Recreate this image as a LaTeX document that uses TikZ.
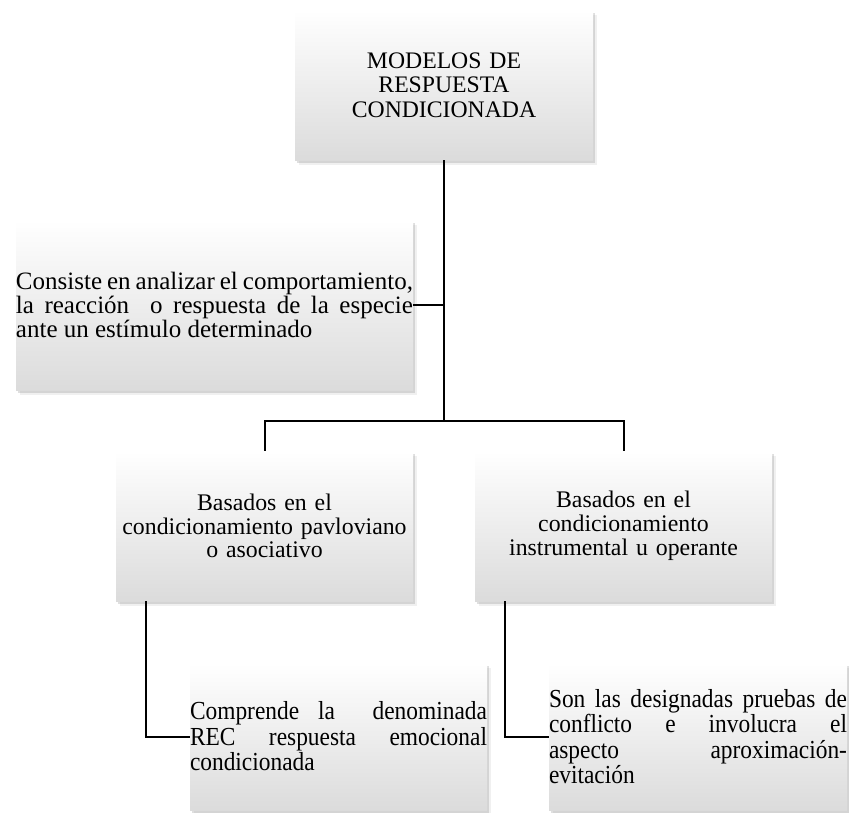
\documentclass[tikz,border=0pt]{standalone}
\usepackage{fontspec}
\setmainfont{Liberation Serif}
\newfontfamily\tallserif[FakeStretch=0.9]{Liberation Serif}
\usepackage{tikz}
\usetikzlibrary{calc, positioning, shadows}
\tikzstyle{box}=[inner sep=0pt, shape=rectangle, top color=white, middle color=white!97!black, bottom color=black!14,
  drop shadow={shadow xshift=2pt, shadow yshift=-3pt, opacity=.25},
  drop shadow={shadow xshift=3.5pt, shadow yshift=-5pt, opacity=.12},
  font=\fontsize{23.8}{23.8}\selectfont]
\tikzstyle{cbox}=[box, align=center]
\tikzstyle{jbox}=[box, align=justify]
\tikzstyle{conn}=[line width=2pt, black]

\begin{document}
\begin{tikzpicture}[x=1pt, y=-1pt]
\useasboundingbox (0,0) rectangle (849,812);

\node[cbox, text width=298pt, minimum height=150pt, font=\fontsize{23.7}{24.3}\selectfont] (title) at (444,85) {MODELOS DE\\RESPUESTA\\CONDICIONADA};
\node[jbox, text width=397pt, minimum height=170pt, font=\fontsize{25}{22}\selectfont] (desc) at (214.5,305) {Consiste en analizar el comportamiento, la reacción \ o respuesta de la especie ante un estímulo determinado};
\node[cbox, text width=297pt, minimum height=150pt] (pav) at (264.5,526) {Basados en el\\condicionamiento pavloviano\\o asociativo};
\node[cbox, text width=297pt, minimum height=150pt] (ins) at (623.5,526) {Basados en el\\condicionamiento\\instrumental u operante};
\node[jbox, text width=297pt, minimum height=147pt, font=\tallserif\fontsize{26}{25.5}\selectfont] (rec) at (338.5,736.5) {Comprende la \ denominada\linebreak REC respuesta emocional\linebreak condicionada};
\node[jbox, text width=298pt, minimum height=147pt, font=\tallserif\fontsize{26}{25.5}\selectfont] (con) at (698,736.5) {Son las designadas pruebas de\linebreak conflicto e involucra el\linebreak aspecto aproximación-\linebreak evitación};

\coordinate (hub) at (444,421);
\draw[conn] (title.south) -- (hub);
\draw[conn] (desc.east) -- (desc.east -| hub);
\draw[conn] (pav.north) -- (pav.north |- hub) -- (ins.north |- hub) -- (ins.north);

\draw[conn] ($(pav.south west)+(30,0)$) |- (rec.west);
\draw[conn] ($(ins.south west)+(30,0)$) |- (con.west);
\end{tikzpicture}
\end{document}
